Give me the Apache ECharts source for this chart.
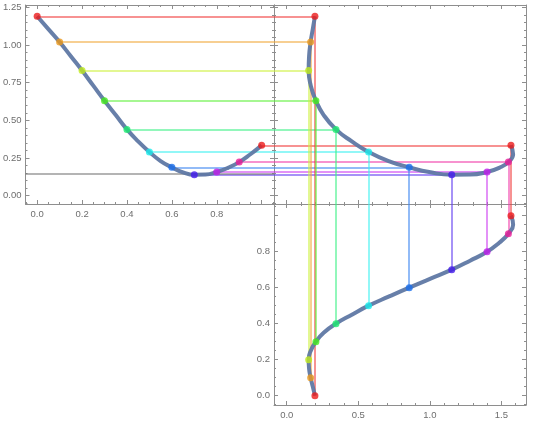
<!DOCTYPE html>
<html><head><meta charset="utf-8">
<script src="https://cdn.jsdelivr.net/npm/echarts@6/dist/echarts.min.js"></script>
<style>html,body{margin:0;padding:0;background:#fff}#c{width:540px;height:429px}</style>
</head><body><div id="c"></div>
<script>
// ---- data ----
// marked points: position x, height y(x), and the other coordinate s(x)
const pointX = [0, 0.1, 0.2, 0.3, 0.4, 0.5, 0.6, 0.7, 0.8, 0.9, 1.0];
const pointY = [1.19, 1.02, 0.83, 0.63, 0.44, 0.29, 0.188, 0.139, 0.157, 0.223, 0.334];
const pointS = [0.197, 0.167, 0.153, 0.204, 0.344, 0.572, 0.856, 1.153, 1.40, 1.549, 1.567];
// curve samples (read between the marked points)
const curveX = [0, 0.05, 0.1, 0.15, 0.2, 0.25, 0.3, 0.35, 0.4, 0.45, 0.5, 0.55, 0.6, 0.65, 0.7, 0.75, 0.8, 0.85, 0.9, 0.95, 1.0];
const curveY = [1.19, 1.105, 1.02, 0.925, 0.83, 0.73, 0.63, 0.535, 0.44, 0.36, 0.29, 0.23, 0.188, 0.155, 0.139, 0.14, 0.157, 0.185, 0.223, 0.275, 0.334];
const curveS = [0.197, 0.182, 0.167, 0.156, 0.153, 0.168, 0.204, 0.258, 0.344, 0.455, 0.572, 0.712, 0.856, 1.005, 1.153, 1.281, 1.40, 1.485, 1.549, 1.582, 1.567];
const minLineY = 0.144;
// tick values
const tlXTicks = [0, 0.2, 0.4, 0.6, 0.8, 1.0];
const tlXLabels = [0, 0.2, 0.4, 0.6, 0.8];
const tlYTicks = [0, 0.25, 0.5, 0.75, 1.0, 1.25];
const sTicks = [0, 0.5, 1.0, 1.5];
const brYTicks = [0, 0.2, 0.4, 0.6, 0.8, 1.0];
const brYLabels = [0, 0.2, 0.4, 0.6, 0.8];

// ---- layout / style ----
const TLX = [-0.052, 1.055], YR = [-0.055, 1.265];
const SR = [-0.089, 1.672], BRY = [-0.052, 1.065];
const FRAME = '#8e8e8e', LABEL = '#6e6e6e', CURVE = '#5f78a4';

function hsv(h, s, v) {
  const f = n => { const k = (n + h * 6) % 6; return v - v * s * Math.max(0, Math.min(k, 4 - k, 1)); };
  return 'rgb(' + [5, 3, 1].map(n => Math.round(f(n) * 255)).join(',') + ')';
}
const ptColor = i => hsv(pointX[i] % 1, 0.88, 0.92);
const lnColor = i => hsv(pointX[i] % 1, 0.75, 0.95);

function minorVals(min, max, step, majors) {
  const out = [];
  for (let k = Math.ceil(min / step - 1e-9); k * step <= max + 1e-9; k++) {
    const v = +(k * step).toFixed(5);
    if (!majors.some(m => Math.abs(m - v) < 1e-6)) out.push(v);
  }
  return out;
}
const xAxes = [], yAxes = [];
function addAxes(list, dim, grid, rng, majors, minorStep, labelVals, fmt) {
  const sides = dim === 'x' ? ['bottom', 'top'] : ['left', 'right'];
  const minors = minorVals(rng[0], rng[1], minorStep, majors);
  const first = list.length;
  sides.forEach((pos, si) => {
    list.push({
      type: 'value', gridIndex: grid, position: pos, min: rng[0], max: rng[1],
      axisLine: { show: true, onZero: false, lineStyle: { color: FRAME, width: 1 } },
      axisTick: { show: true, inside: true, length: 4, customValues: majors, lineStyle: { color: FRAME } },
      axisLabel: { show: si === 0, customValues: labelVals, formatter: fmt, color: LABEL, fontSize: 9.5,
                   fontFamily: 'Liberation Sans', margin: dim === 'x' ? 5 : 4 },
      splitLine: { show: false }
    });
    list.push({
      type: 'value', gridIndex: grid, position: pos, min: rng[0], max: rng[1],
      axisLine: { show: false, onZero: false },
      axisTick: { show: true, inside: true, length: 2, customValues: minors, lineStyle: { color: FRAME } },
      axisLabel: { show: false }, splitLine: { show: false }
    });
  });
  return first;
}
const f1 = v => v.toFixed(1), f2 = v => v.toFixed(2);
const tlx = addAxes(xAxes, 'x', 0, TLX, tlXTicks, 0.05, tlXLabels, f1);
const tly = addAxes(yAxes, 'y', 0, YR, tlYTicks, 0.05, tlYTicks, f2);
const trx = addAxes(xAxes, 'x', 1, SR, sTicks, 0.1, [], f1);
const try_ = addAxes(yAxes, 'y', 1, YR, tlYTicks, 0.05, [], f2);
const brx = addAxes(xAxes, 'x', 2, SR, sTicks, 0.1, sTicks, f1);
const bry = addAxes(yAxes, 'y', 2, BRY, brYTicks, 0.05, brYLabels, f1);
xAxes[trx].axisLabel.show = false; yAxes[try_].axisLabel.show = false;

const lineItem = (c1, c2, color, w) => ({ coords: [c1, c2], lineStyle: { color, width: w || 1.5, opacity: 0.75 } });
function guide(ax, ay, data) {
  return { type: 'lines', coordinateSystem: 'cartesian2d', xAxisIndex: ax, yAxisIndex: ay, silent: true, z: 1,
           lineStyle: { width: 1.5, opacity: 0.75 }, data };
}
function curve(ax, ay, xs, ys) {
  return { type: 'line', xAxisIndex: ax, yAxisIndex: ay, smooth: 0.5, showSymbol: false, silent: true, z: 3,
           lineStyle: { color: CURVE, width: 4, opacity: 0.95 }, data: xs.map((v, i) => [v, ys[i]]) };
}
function pts(ax, ay, xs, ys) {
  return { type: 'scatter', xAxisIndex: ax, yAxisIndex: ay, symbolSize: 7, z: 5, silent: true,
           data: xs.map((v, i) => ({ value: [v, ys[i]], itemStyle: { color: ptColor(i) } })) };
}
const series = [
  guide(tlx, tly, pointX.map((x, i) => lineItem([x, pointY[i]], [TLX[1], pointY[i]], lnColor(i)))
    .concat([lineItem([TLX[0], minLineY], [TLX[1], minLineY], '#7a7a7a', 1.5)])),
  guide(trx, try_, pointX.map((x, i) => lineItem([SR[0], pointY[i]], [pointS[i], pointY[i]], lnColor(i)))
    .concat(pointX.map((x, i) => lineItem([pointS[i], pointY[i]], [pointS[i], YR[0]], lnColor(i))))),
  guide(brx, bry, pointX.map((x, i) => lineItem([pointS[i], BRY[1]], [pointS[i], x], lnColor(i)))),
  curve(tlx, tly, curveX, curveY),
  curve(trx, try_, curveS, curveY),
  curve(brx, bry, curveS, curveX),
  pts(tlx, tly, pointX, pointY),
  pts(trx, try_, pointS, pointY),
  pts(brx, bry, pointS, pointX)
];

const chart = echarts.init(document.getElementById('c'), null, { renderer: 'canvas' });
chart.setOption({
  animation: false,
  backgroundColor: '#fff',
  grid: [
    { left: 25, top: 5, width: 249, height: 199 },
    { left: 274, top: 5, width: 252, height: 199 },
    { left: 274, top: 204, width: 252, height: 201 }
  ],
  xAxis: xAxes,
  yAxis: yAxes,
  series
});
</script>
</body></html>
